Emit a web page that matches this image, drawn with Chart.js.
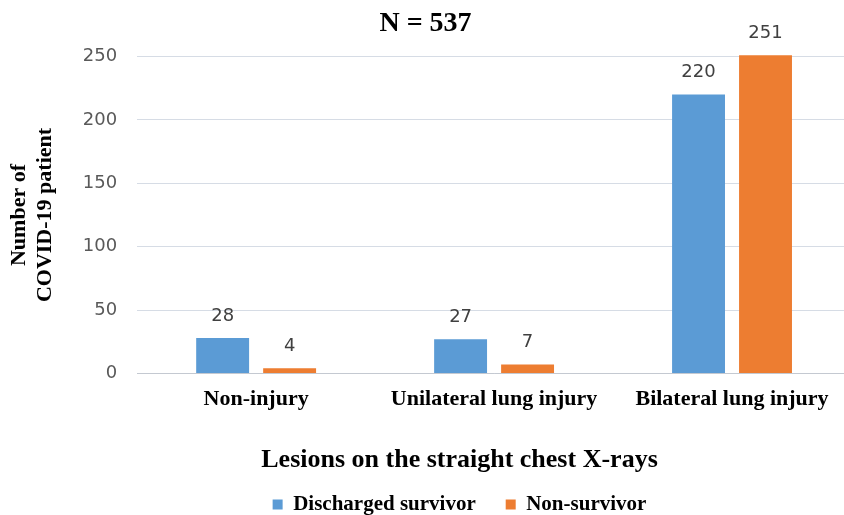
<!DOCTYPE html>
<html lang="en">
<head>
    <meta charset="UTF-8">
    <title>Lesions on the straight chest X-rays</title>
    <script src="https://cdn.jsdelivr.net/npm/chart.js"></script>
    <style>
        html, body {
            margin: 0;
            padding: 0;
            background: #ffffff;
            overflow: hidden;
        }

        .chart-box {
            position: relative;
            width: 854px;
            height: 515px;
        }
    </style>
</head>
<body>
    <div class="chart-box">
        <canvas id="lesionChart"></canvas>
    </div>

    <script>
        "use strict";

        // data
        const categories = ['Non-injury', 'Unilateral lung injury', 'Bilateral lung injury'];
        const dischargedSurvivor = [28, 27, 220];
        const nonSurvivor = [4, 7, 251];
        const seriesNames = ['Discharged survivor', 'Non-survivor'];
        const yTicks = [0, 50, 100, 150, 200, 250];

        const serif = "'Liberation Serif', 'Times New Roman', serif";
        const sans = "'DejaVu Sans', sans-serif";

        // numbers above each bar
        const barValueLabels = {
            id: 'barValueLabels',
            afterDatasetsDraw(chart) {
                const ctx = chart.ctx;
                ctx.save();
                ctx.font = '18px ' + sans;
                ctx.fillStyle = '#404040';
                ctx.textAlign = 'center';
                ctx.textBaseline = 'middle';
                chart.data.datasets.forEach((ds, i) => {
                    chart.getDatasetMeta(i).data.forEach((bar, j) => {
                        ctx.fillText(ds.data[j], bar.x, bar.y - 22);
                    });
                });
                ctx.restore();
            }
        };

        // legend sits a bit right of the canvas centre in the original
        const legendShift = {
            id: 'legendShift',
            afterLayout(chart) {
                chart.legend.left += 34;
                chart.legend.right += 34;
            }
        };

        new Chart(document.getElementById('lesionChart'), {
            type: 'bar',
            data: {
                labels: categories,
                datasets: [
                    {
                        label: seriesNames[0],
                        data: dischargedSurvivor,
                        backgroundColor: '#5B9BD5',
                        borderWidth: 0,
                        clip: false
                    },
                    {
                        label: seriesNames[1],
                        data: nonSurvivor,
                        backgroundColor: '#ED7D31',
                        borderWidth: 0,
                        clip: false
                    }
                ]
            },
            options: {
                responsive: true,
                maintainAspectRatio: false,
                animation: false,
                categoryPercentage: 0.563,
                barPercentage: 0.79,
                layout: { padding: { left: 0, right: 3, top: 0, bottom: -10 } },
                plugins: {
                    title: {
                        display: true,
                        text: 'N = 537',
                        color: '#000000',
                        font: { family: serif, size: 28, weight: 'bold', lineHeight: 1.2 },
                        padding: { top: 7, bottom: 16 }
                    },
                    legend: {
                        display: true,
                        position: 'bottom',
                        align: 'center',
                        title: {
                            display: true,
                            text: 'Lesions on the straight chest X-rays',
                            color: '#000000',
                            font: { family: serif, size: 26, weight: 'bold', lineHeight: 1.2 },
                            padding: { top: 21, bottom: -14 }
                        },
                        labels: {
                            boxWidth: 10,
                            boxHeight: 10,
                            padding: 30,
                            color: '#000000',
                            font: { family: serif, size: 21, weight: 'bold' }
                        }
                    },
                    tooltip: { enabled: false }
                },
                scales: {
                    x: {
                        grid: { display: false, drawTicks: false },
                        border: { display: true, color: '#c4c9d1', width: 1 },
                        ticks: {
                            padding: 13,
                            color: '#000000',
                            font: { family: serif, size: 22, weight: 'bold', lineHeight: 1.2 }
                        }
                    },
                    y: {
                        min: 0,
                        max: 250,
                        afterBuildTicks(scale) {
                            scale.ticks = yTicks.map(v => ({ value: v }));
                        },
                        grid: { color: '#d6dce5', drawTicks: false },
                        border: { display: false },
                        ticks: {
                            padding: 20,
                            color: '#595959',
                            font: { family: sans, size: 18 }
                        },
                        title: {
                            display: true,
                            text: ['Number of', 'COVID-19 patient'],
                            color: '#000000',
                            font: { family: serif, size: 22, weight: 'bold', lineHeight: 1.2 },
                            padding: { top: 6, bottom: 4 }
                        }
                    }
                }
            },
            plugins: [barValueLabels, legendShift]
        });
    </script>
</body>
</html>
